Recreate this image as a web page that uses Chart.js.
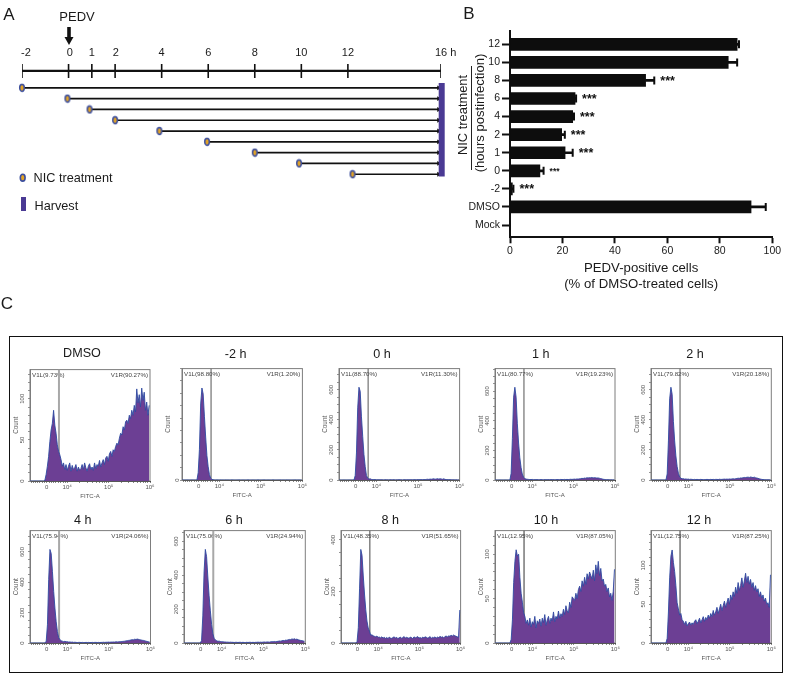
<!DOCTYPE html>
<html>
<head>
<meta charset="utf-8">
<script src="https://cdn.jsdelivr.net/npm/chart.js@4"></script>
<style>
  html, body { margin: 0; padding: 0; background: #fff; }
  #page { position: relative; width: 787px; height: 674px; overflow: hidden; font-family: "Liberation Sans", Arial, sans-serif; color: #1a1a1a; filter: blur(0.3px); }
  canvas { position: absolute; }
  .t { position: absolute; white-space: nowrap; transform: translate(-50%, -50%); line-height: 1; }
  .l { position: absolute; white-space: nowrap; transform: translateY(-50%); line-height: 1; }
  #frame { position: absolute; left: 9px; top: 336px; width: 772px; height: 335px; border: 1.5px solid #111; }
</style>
</head>
<body>
<div id="page">
  <div id="frame"></div>
  <div class="t" style="left:9px;top:14px;font-size:17px">A</div>
  <div class="t" style="left:469px;top:13px;font-size:17px">B</div>
  <div class="t" style="left:7px;top:303px;font-size:17px">C</div>
  <div class="t" style="left:77px;top:16px;font-size:13px">PEDV</div>
  <svg style="position:absolute;left:62px;top:26px" width="14" height="20"><path d="M5.2 1H8.8V11H11.5L7 19 2.5 11H5.2Z" fill="#111"/></svg>
  <svg style="position:absolute;left:18px;top:172px" width="10" height="12"><ellipse cx="4.7" cy="5.7" rx="2.4" ry="3.4" fill="#e2a326" stroke="#3c4f9e" stroke-width="1.6"/></svg>
  <div class="l" style="left:33.5px;top:178px;font-size:12.7px">NIC treatment</div>
  <div style="position:absolute;left:20.5px;top:197px;width:5.5px;height:14px;background:#4a3a94"></div>
  <div class="l" style="left:34.5px;top:206px;font-size:12.7px">Harvest</div>
  <div class="t" style="left:463px;top:115px;font-size:12.9px;transform:translate(-50%,-50%) rotate(-90deg)">NIC treatment</div>
  <div class="t" style="left:480px;top:113px;font-size:13.1px;transform:translate(-50%,-50%) rotate(-90deg)">(hours postinfection)</div>
  <div style="position:absolute;left:470.5px;top:66px;width:1px;height:104px;background:#222"></div>
</div>
<script>
// panel A
const hourLabels = ['-2', '0', '1', '2', '4', '6', '8', '10', '12', '16 h'];
const hourTicks = [-2, 0, 1, 2, 4, 6, 8, 10, 12, 16];
const hourLabelAt = [-1.83, 0.05, 1, 2.03, 4, 6, 8, 10, 12, 16.2];
const nicStart = [-2, -0.05, 0.9, 2, 3.9, 5.95, 8, 9.9, 12.2];

// panel B
const rowLabels = ['12', '10', '8', '6', '4', '2', '1', '0', '-2', 'DMSO', 'Mock'];
const positive = [86.6, 83.2, 51.7, 24.8, 23.9, 19.7, 21, 11.4, 0.9, 91.9, 0];
const errHigh = [87.3, 86.6, 55, 25.2, 24.4, 20.9, 23.9, 12.8, 1.3, 97.5, 0];
const stars = ['', '', '***', '***', '***', '***', '***', '***', '***', '', ''];

// panel C, counts per FITC-A bin (97 bins)
const histDmso = [0,0,0,0,0,0,0,0,0,0,0,0,1,8,18,30,48,62,70,86,68,58,44,36,32,26,18,22,14,20,13,18,22,12,19,14,16,20,12,17,13,15,20,14,22,16,12,18,21,14,17,13,22,15,20,18,25,17,22,26,20,28,30,24,33,36,30,38,36,42,46,44,52,58,56,66,62,72,74,70,80,76,86,80,92,84,112,95,105,90,113,98,108,86,96,80,92];
const histM2 = [0,0,0,0,0,0,0,0,0,0,0,0,0,60,250,620,750,700,520,350,200,110,45,15,5,2,1,0,1,0,0,1,0,0,0,1,0,0,0,0,1,0,0,0,0,0,1,0,0,0,0,0,0,1,0,0,0,0,0,0,0,1,0,0,0,0,1,0,0,0,0,0,0,1,0,0,0,0,0,1,0,0,0,0,1,0,0,0,0,0,0,1,0,0,0,0,0];
const hist0 = [0,0,0,0,0,0,0,0,0,0,0,0,0,30,180,480,617,590,420,290,170,90,30,12,6,8,4,3,2,3,1,2,1,1,2,1,0,2,1,1,0,2,1,1,2,0,1,1,2,1,1,0,2,1,1,2,1,1,2,1,2,2,1,3,2,2,3,2,3,2,4,5,4,6,5,7,8,5,7,9,6,8,7,5,8,4,3,3,2,2,1,1,1,0,1,0,1];
const hist1 = [0,0,0,0,0,0,0,0,0,0,0,0,0,45,280,560,627,560,380,250,150,85,40,18,10,6,5,4,3,3,4,2,3,2,3,2,2,3,2,1,3,2,2,3,2,3,2,3,2,2,3,3,2,4,3,3,4,3,4,3,4,5,4,5,6,5,7,6,8,9,11,10,13,12,15,14,16,15,17,14,16,15,13,14,12,10,8,5,4,3,2,2,1,1,1,0,1];
const hist2 = [0,0,0,0,0,0,0,0,0,0,0,0,0,40,260,540,617,570,390,260,160,90,45,20,12,8,9,6,7,5,6,4,5,4,3,4,3,4,3,3,4,3,2,3,3,4,3,3,4,3,4,3,4,4,3,5,4,4,5,6,5,6,5,7,6,7,8,7,9,10,12,11,14,13,15,17,16,18,19,17,20,18,16,19,15,13,11,8,6,4,3,2,2,1,1,1,0];
const hist4 = [0,0,0,0,0,0,0,0,0,0,0,0,0,12,120,420,617,590,470,340,230,140,75,35,22,15,12,9,11,8,9,6,7,5,6,4,5,4,3,4,4,3,4,3,3,4,3,4,3,3,4,3,4,4,3,4,3,4,4,5,4,5,5,6,5,6,6,7,6,8,7,8,9,8,10,11,12,14,15,17,18,20,22,21,25,23,26,24,22,20,18,17,15,12,10,8,6];
const hist6 = [0,0,0,0,0,0,0,0,0,0,0,0,0,0,15,160,420,553,510,390,280,190,110,55,28,18,14,10,11,9,8,7,6,6,5,5,4,5,4,4,3,4,4,3,4,4,3,4,3,3,4,3,4,4,3,4,3,4,4,5,4,5,4,5,6,5,6,6,5,7,8,7,9,8,9,10,12,11,13,15,14,17,16,19,21,20,24,22,25,21,23,19,17,15,14,12,10];
const hist8 = [0,0,0,0,0,0,0,0,0,0,0,0,0,6,60,210,363,340,260,190,130,85,58,46,30,32,28,26,24,27,22,23,20,24,19,22,18,21,17,23,19,18,21,24,19,22,17,20,23,18,21,25,19,22,20,18,23,21,17,24,20,22,25,19,21,18,23,20,24,22,19,21,25,18,22,20,24,19,23,21,26,22,24,20,25,27,23,28,26,30,27,31,28,26,24,22,128];
const hist10 = [0,0,0,0,0,0,0,0,0,0,0,0,0,4,26,68,92,105,98,100,74,56,46,34,30,22,26,20,28,18,24,21,30,17,25,22,27,19,28,23,32,20,26,30,22,28,25,35,24,30,27,36,28,33,30,38,32,42,36,34,46,40,52,50,48,56,50,60,64,58,70,64,74,66,78,72,80,76,72,82,70,88,78,92,76,84,70,72,64,66,58,62,52,56,48,58,83];
const hist12 = [0,0,0,0,0,0,0,0,0,0,0,0,0,6,40,84,112,120,104,92,74,52,44,36,38,30,28,24,28,22,25,27,23,26,24,28,30,25,28,32,26,30,34,28,33,30,36,32,38,34,42,36,40,46,38,44,50,42,48,54,46,52,58,50,62,56,66,60,72,64,78,68,74,84,72,80,90,78,86,76,82,72,78,68,74,66,70,60,66,58,62,54,58,50,52,46,88];

const binStart = 3.1, binStep = 0.03;
// FITC-A axis: 3.5 is the "0" of the biexponential display, 4/5/6 are the decades
const fitcMajor = { 3.5: '0', 4: '10\u2074', 5: '10\u2075', 6: '10\u2076' };
const fitcMinor = [3.14, 3.19, 3.24, 3.29, 3.34, 3.39, 3.44, 3.56, 3.61, 3.66, 3.72, 3.78, 3.84, 3.9, 3.95,
  4.3, 4.48, 4.6, 4.7, 4.78, 4.85, 4.9, 4.95, 5.3, 5.48, 5.6, 5.7, 5.78, 5.85, 5.9, 5.95];

const panels = [
  { title: 'DMSO', hist: histDmso, left: 30, right: 150, top: 365.5, base: 480, yMax: 135.5, major: 50, minor: 10, tx: 82, ty: 353, gate: '#a8a8a8', gw: 2, l: 'V1L(9.73%)', r: 'V1R(90.27%)' },
  { title: '-2 h', hist: histM2, left: 182.3, right: 302.7, top: 365, base: 480, yMax: 908, major: 500, minor: 100, tx: 235.7, ty: 354, gate: '#555', gw: 1, l: 'V1L(98.80%)', r: 'V1R(1.20%)' },
  { title: '0 h', hist: hist0, left: 338.7, right: 459.3, top: 364.7, base: 480, yMax: 741, major: 200, minor: 50, tx: 382, ty: 354, gate: '#555', gw: 1, l: 'V1L(88.70%)', r: 'V1R(11.30%)' },
  { title: '1 h', hist: hist1, left: 495, right: 615, top: 364.7, base: 480, yMax: 753, major: 200, minor: 50, tx: 540.7, ty: 354, gate: '#555', gw: 1, l: 'V1L(80.77%)', r: 'V1R(19.23%)' },
  { title: '2 h', hist: hist2, left: 650.7, right: 771, top: 364.7, base: 480, yMax: 741, major: 200, minor: 50, tx: 695, ty: 354, gate: '#555', gw: 1, l: 'V1L(79.82%)', r: 'V1R(20.18%)' },
  { title: '4 h', hist: hist4, left: 30, right: 150.5, top: 526.7, base: 642.3, yMax: 741, major: 200, minor: 50, tx: 82.7, ty: 519.7, gate: '#a8a8a8', gw: 2, l: 'V1L(75.94%)', r: 'V1R(24.06%)' },
  { title: '6 h', hist: hist6, left: 184, right: 305.3, top: 526.7, base: 642.3, yMax: 664, major: 200, minor: 50, tx: 234, ty: 519.7, gate: '#a8a8a8', gw: 2, l: 'V1L(75.06%)', r: 'V1R(24.94%)' },
  { title: '8 h', hist: hist8, left: 340.7, right: 460.3, top: 526.7, base: 642.3, yMax: 436, major: 200, minor: 50, tx: 390.3, ty: 520.3, gate: '#444', gw: 1, l: 'V1L(48.35%)', r: 'V1R(51.65%)' },
  { title: '10 h', hist: hist10, left: 495, right: 615.3, top: 526.7, base: 642.3, yMax: 126.6, major: 50, minor: 10, tx: 546, ty: 519.7, gate: '#333', gw: 1, l: 'V1L(12.95%)', r: 'V1R(87.05%)' },
  { title: '12 h', hist: hist12, left: 650.7, right: 771, top: 527, base: 643.3, yMax: 145, major: 50, minor: 10, tx: 699, ty: 519.7, gate: '#333', gw: 1, l: 'V1L(12.75%)', r: 'V1R(87.25%)' },
];

const page = document.getElementById('page');
const FONT = '"Liberation Sans", Arial, sans-serif';
Chart.defaults.font.family = FONT;
Chart.defaults.animation = false;
Chart.defaults.responsive = false;
Chart.defaults.plugins.legend.display = false;
Chart.defaults.plugins.tooltip.enabled = false;

function addCanvas(left, top, w, h) {
  const c = document.createElement('canvas');
  c.width = w;
  c.height = h;
  c.style.left = left + 'px';
  c.style.top = top + 'px';
  c.style.width = w + 'px';
  c.style.height = h + 'px';
  page.appendChild(c);
  return c;
}

function dotImage() {
  const c = document.createElement('canvas');
  c.width = 8;
  c.height = 10;
  const g = c.getContext('2d');
  g.beginPath();
  g.ellipse(4, 5, 2.3, 3.4, 0, 0, Math.PI * 2);
  g.fillStyle = '#e2a326';
  g.fill();
  g.lineWidth = 1.5;
  g.strokeStyle = '#3c4f9e';
  g.stroke();
  return c;
}

// ---- A: timeline
const dot = dotImage();
const timelineRow = -0.57;
const rowDatasets = nicStart.map((h, i) => ({
  type: 'line',
  data: [{ x: h, y: i + 1 }, { x: 15.9, y: i + 1 }],
  borderColor: '#111',
  borderWidth: 1.7,
  clip: false,
  pointStyle: [dot, 'triangle'],
  pointRotation: [0, 90],
  pointRadius: [4, 2.8],
  pointBackgroundColor: '#111',
  pointBorderColor: '#111',
  pointBorderWidth: 0,
  order: 1,
}));
new Chart(addCanvas(0, 0, 460, 200), {
  type: 'line',
  data: {
    datasets: [
      {
        data: hourTicks.map(h => ({ x: h, y: timelineRow })),
        borderColor: '#111',
        borderWidth: 2.4,
        pointStyle: 'line',
        pointRotation: 90,
        pointRadius: 7,
        pointBorderColor: '#111',
        pointBorderWidth: 1.6,
      },
      {
        data: [{ x: 16.03, y: 0.54 }, { x: 16.03, y: 9.2 }],
        borderColor: '#4a3a94',
        borderWidth: 6,
        pointRadius: 0,
        clip: false,
        order: 0,
      },
      ...rowDatasets,
    ],
  },
  options: {
    layout: { padding: { left: 22, right: 19, top: 0, bottom: 0 } },
    scales: {
      x: {
        type: 'linear',
        position: 'top',
        min: -2,
        max: 16,
        afterBuildTicks: a => { a.ticks = hourLabelAt.map(v => ({ value: v })); },
        afterFit: s => { s.height = 60; },
        grid: { display: false, drawTicks: false },
        border: { display: false },
        ticks: {
          autoSkip: false, maxRotation: 0, padding: 0, color: '#1a1a1a', font: { size: 11 },
          callback: (v, i) => hourLabels[i],
        },
      },
      y: { type: 'linear', display: false, reverse: true, min: -1.58, max: 10.59 },
    },
  },
});

// ---- B: bars
const starPlugin = {
  id: 'stars',
  afterDatasetsDraw(chart) {
    const g = chart.ctx;
    g.save();
    g.fillStyle = '#111';
    g.textBaseline = 'middle';
    stars.forEach((s, i) => {
      if (!s) return;
      g.font = (rowLabels[i] === '0' ? 'bold 8.5px ' : 'bold 12.5px ') + FONT;
      g.fillText(s, chart.scales.x.getPixelForValue(errHigh[i]) + 6, chart.scales.y.getPixelForValue(i) + 1);
    });
    g.restore();
  },
};
new Chart(addCanvas(440, 20, 347, 280), {
  type: 'bar',
  data: {
    datasets: [
      {
        data: positive.map((v, i) => ({ x: v, y: i })),
        backgroundColor: '#0d0d0d',
        barThickness: 12,
        grouped: false,
      },
      {
        data: errHigh.map((v, i) => ({ x: [positive[i], v], y: i })),
        backgroundColor: '#0d0d0d',
        barThickness: 2,
        grouped: false,
      },
      {
        type: 'scatter',
        data: errHigh.map((v, i) => ({ x: v, y: i })).filter(p => p.x > 0),
        pointStyle: 'line',
        pointRotation: 90,
        pointRadius: 4,
        pointBorderColor: '#0d0d0d',
        pointBorderWidth: 2,
      },
    ],
  },
  options: {
    indexAxis: 'y',
    layout: { padding: { left: 0, right: 14.7, top: 10.7, bottom: 0 } },
    scales: {
      x: {
        type: 'linear',
        min: 0,
        max: 100,
        afterFit: s => { s.height = 62.7; },
        grid: { drawOnChartArea: false, tickLength: 6, tickColor: '#111', tickWidth: 2 },
        border: { color: '#111', width: 2 },
        ticks: { stepSize: 20, padding: 2, color: '#1a1a1a', font: { size: 10.5 }, maxRotation: 0 },
        title: {
          display: true,
          text: ['PEDV-positive cells', '(% of DMSO-treated cells)'],
          color: '#1a1a1a',
          font: { size: 13.2 },
          padding: { top: 5, bottom: 8 },
        },
      },
      y: {
        type: 'linear',
        reverse: true,
        offset: false,
        min: -0.753,
        max: 10.68,
        afterBuildTicks: a => { a.ticks = rowLabels.map((_, i) => ({ value: i })); },
        afterFit: s => { s.width = 70; },
        grid: { offset: false, drawOnChartArea: false, tickLength: 8, tickColor: '#111', tickWidth: 2 },
        border: { color: '#111', width: 2 },
        ticks: { autoSkip: false, padding: 2, color: '#1a1a1a', font: { size: 10.5 }, callback: (v, i) => rowLabels[i] },
      },
    },
  },
  plugins: [starPlugin],
});

// ---- C: histograms
const boxPlugin = {
  id: 'box',
  beforeDatasetsDraw(chart, args, opts) {
    const a = chart.chartArea, g = chart.ctx;
    g.save();
    g.strokeStyle = '#7d7d7d';
    g.lineWidth = 1;
    g.strokeRect(a.left, a.top, a.right - a.left, a.bottom - a.top);
    g.fillStyle = '#444';
    g.font = '6.2px ' + FONT;
    g.textBaseline = 'middle';
    g.textAlign = 'left';
    g.fillText(opts.l, a.left + 2, a.top + 5.5);
    g.textAlign = 'right';
    g.fillText(opts.r, a.right - 2, a.top + 5.5);
    g.restore();
  },
};

panels.forEach(p => {
  const title = document.createElement('div');
  title.className = 't';
  title.style.cssText = `left:${p.tx}px;top:${p.ty}px;font-size:12.6px`;
  title.textContent = p.title;
  page.appendChild(title);

  const axisW = 21, axisH = 20, padTop = 1;
  const w = Math.round(p.right - p.left + axisW + 9);
  const h = Math.round(p.base - p.top + axisH + padTop);
  new Chart(addCanvas(p.left - axisW, p.top - padTop, w, h), {
    type: 'line',
    data: {
      datasets: [
        {
          data: p.hist.map((v, i) => ({ x: binStart + i * binStep, y: v })),
          borderColor: '#2f4ba2',
          borderWidth: 0.9,
          backgroundColor: '#6c3f94',
          fill: 'origin',
          pointRadius: 0,
        },
        {
          data: [{ x: 3.8, y: 0 }, { x: 3.8, y: p.yMax }],
          borderColor: p.gate,
          borderWidth: p.gw,
          pointRadius: 0,
        },
      ],
    },
    options: {
      layout: { padding: { left: 0, right: w - axisW - (p.right - p.left), top: padTop, bottom: 0 } },
      plugins: { box: { l: p.l, r: p.r } },
      scales: {
        x: {
          type: 'linear',
          min: binStart,
          max: 6,
          afterBuildTicks: a => {
            a.ticks = [...Object.keys(fitcMajor).map(Number), ...fitcMinor].map(v => ({ value: v }));
          },
          afterFit: s => { s.height = axisH; },
          grid: { drawOnChartArea: false, tickLength: 2, tickColor: '#555', tickWidth: 0.7 },
          border: { color: '#333', width: 1 },
          ticks: {
            autoSkip: false, maxRotation: 0, padding: 1, color: '#555', font: { size: 6 },
            callback: v => fitcMajor[v] || '',
          },
          title: { display: true, text: 'FITC-A', color: '#555', font: { size: 6 }, padding: { top: 1, bottom: 1 } },
        },
        y: {
          type: 'linear',
          min: 0,
          max: p.yMax,
          afterFit: s => { s.width = axisW; },
          grid: { drawOnChartArea: false, tickLength: 2, tickColor: '#666', tickWidth: 0.7 },
          border: { color: '#7d7d7d', width: 1 },
          ticks: {
            stepSize: p.minor, autoSkip: false, includeBounds: false, padding: 1, minRotation: 90, maxRotation: 90, crossAlign: 'center',
            color: '#555', font: { size: 6 },
            callback: v => (v % p.major === 0 ? String(v) : ''),
          },
          title: { display: true, text: 'Count', color: '#555', font: { size: 6.4 }, padding: { top: 3, bottom: 0 } },
        },
      },
    },
    plugins: [boxPlugin],
  });
});
</script>
</body>
</html>
